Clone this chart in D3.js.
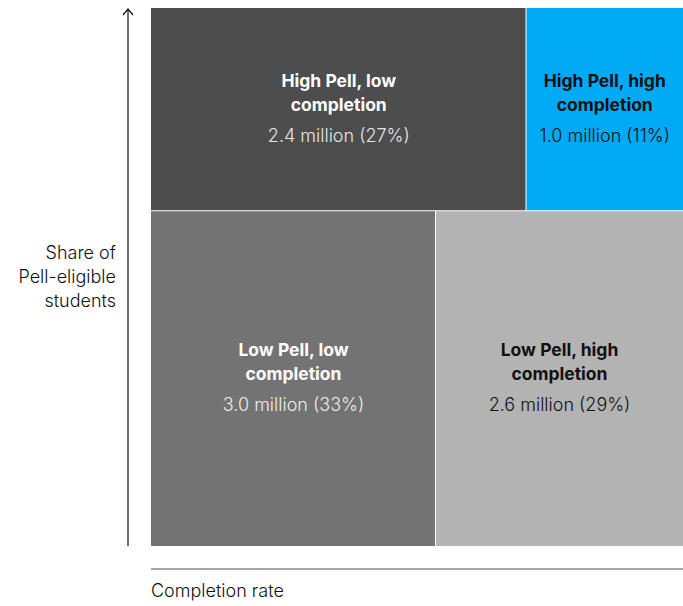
<!DOCTYPE html>
<html>
<head>
<meta charset="utf-8">
<script src="https://cdn.jsdelivr.net/npm/d3@7"></script>
<style>
  html, body { margin: 0; padding: 0; background: #fff; }
  text { font-family: Inter, "Noto Sans", sans-serif; }
</style>
</head>
<body>
<svg id="chart" width="683" height="606"></svg>
<script>
// Rows (Pell share) from top to bottom, columns (completion) from left to right
const rows = ["High Pell", "Low Pell"];
const cols = ["low completion", "high completion"];
// Students in millions per cell, row by row
const highPellValues = [2.4, 1.0];
const lowPellValues = [3.0, 2.6];
// Share of all Pell-eligible students, percent
const highPellShares = [27, 11];
const lowPellShares = [33, 29];
const titles = [
  ["High Pell, low", "completion"], ["High Pell, high", "completion"],
  ["Low Pell, low", "completion"], ["Low Pell, high", "completion"]
];
const fills = ["#4d4d4d", "#00aaf5", "#737373", "#b3b3b3"];
const titleColors = ["#ffffff", "#111111", "#ffffff", "#111111"];
const valueColors = ["#e6e6e6", "#111111", "#ececec", "#111111"];

const svg = d3.select("#chart");
const plotLeft = 151, plotRight = 683, plotTop = 8, plotBottom = 546;

const rowData = [highPellValues, lowPellValues];
const rowShares = [highPellShares, lowPellShares];
const rowTotals = rowData.map(d => d3.sum(d));
const grand = d3.sum(rowTotals);

// vertical scale over cumulative students
const y = d3.scaleLinear().domain([0, grand]).range([plotTop, plotBottom]);

const cells = [];
let yAcc = 0;
rowData.forEach((vals, r) => {
  const x = d3.scaleLinear().domain([0, rowTotals[r]]).range([plotLeft, plotRight]);
  let xAcc = 0;
  vals.forEach((v, c) => {
    const i = r * 2 + c;
    cells.push({
      i, value: v, share: rowShares[r][c],
      x0: x(xAcc), x1: x(xAcc + v),
      y0: y(yAcc), y1: y(yAcc + rowTotals[r])
    });
    xAcc += v;
  });
  yAcc += rowTotals[r];
});

const g = svg.append("g");
g.selectAll("rect").data(cells).join("rect")
  .attr("x", d => d.x0)
  .attr("y", d => d.y0)
  .attr("width", d => Math.max(0, d.x1 - d.x0 - (d.x1 < plotRight - 0.5 ? 1 : 0)))
  .attr("height", d => Math.max(0, d.y1 - d.y0 - (d.y1 < plotBottom - 0.5 ? 1 : 0)))
  .attr("fill", d => fills[d.i]);

const labels = g.selectAll("g.lbl").data(cells).join("g")
  .attr("class", "lbl")
  .attr("transform", d => `translate(${(d.x0 + d.x1) / 2},${(d.y0 + d.y1) / 2})`);

labels.append("text")
  .attr("text-anchor", "middle")
  .attr("font-size", 17.5)
  .attr("font-weight", 700)
  .attr("fill", d => titleColors[d.i])
  .selectAll("tspan").data(d => titles[d.i]).join("tspan")
  .attr("x", 0)
  .attr("y", (t, k) => -23 + k * 24)
  .text(t => t);

labels.append("text")
  .attr("text-anchor", "middle")
  .attr("font-size", 18)
  .attr("font-weight", 300)
  .attr("y", 32)
  .attr("fill", d => valueColors[d.i])
  .text(d => `${d.value.toFixed(1)} million (${d.share}%)`);

// y-axis arrow
svg.append("line")
  .attr("x1", 128).attr("x2", 128).attr("y1", 9).attr("y2", plotBottom)
  .attr("stroke", "#111").attr("stroke-width", 1.2);
svg.append("path")
  .attr("d", "M123,15 L128,9 L133,15")
  .attr("fill", "none").attr("stroke", "#111").attr("stroke-width", 1.2);

svg.append("text")
  .attr("text-anchor", "end")
  .attr("font-size", 18)
  .attr("font-weight", 300)
  .attr("fill", "#111")
  .selectAll("tspan").data(["Share of", "Pell-eligible", "students"]).join("tspan")
  .attr("x", 116)
  .attr("y", (t, k) => 259 + k * 24)
  .text(t => t);

// x-axis baseline
svg.append("line")
  .attr("x1", plotLeft).attr("x2", plotRight).attr("y1", 569).attr("y2", 569)
  .attr("stroke", "#888").attr("stroke-width", 1.5);
svg.append("text")
  .attr("x", plotLeft).attr("y", 597)
  .attr("font-size", 18)
  .attr("font-weight", 300)
  .attr("fill", "#111")
  .text("Completion rate");
</script>
</body>
</html>
